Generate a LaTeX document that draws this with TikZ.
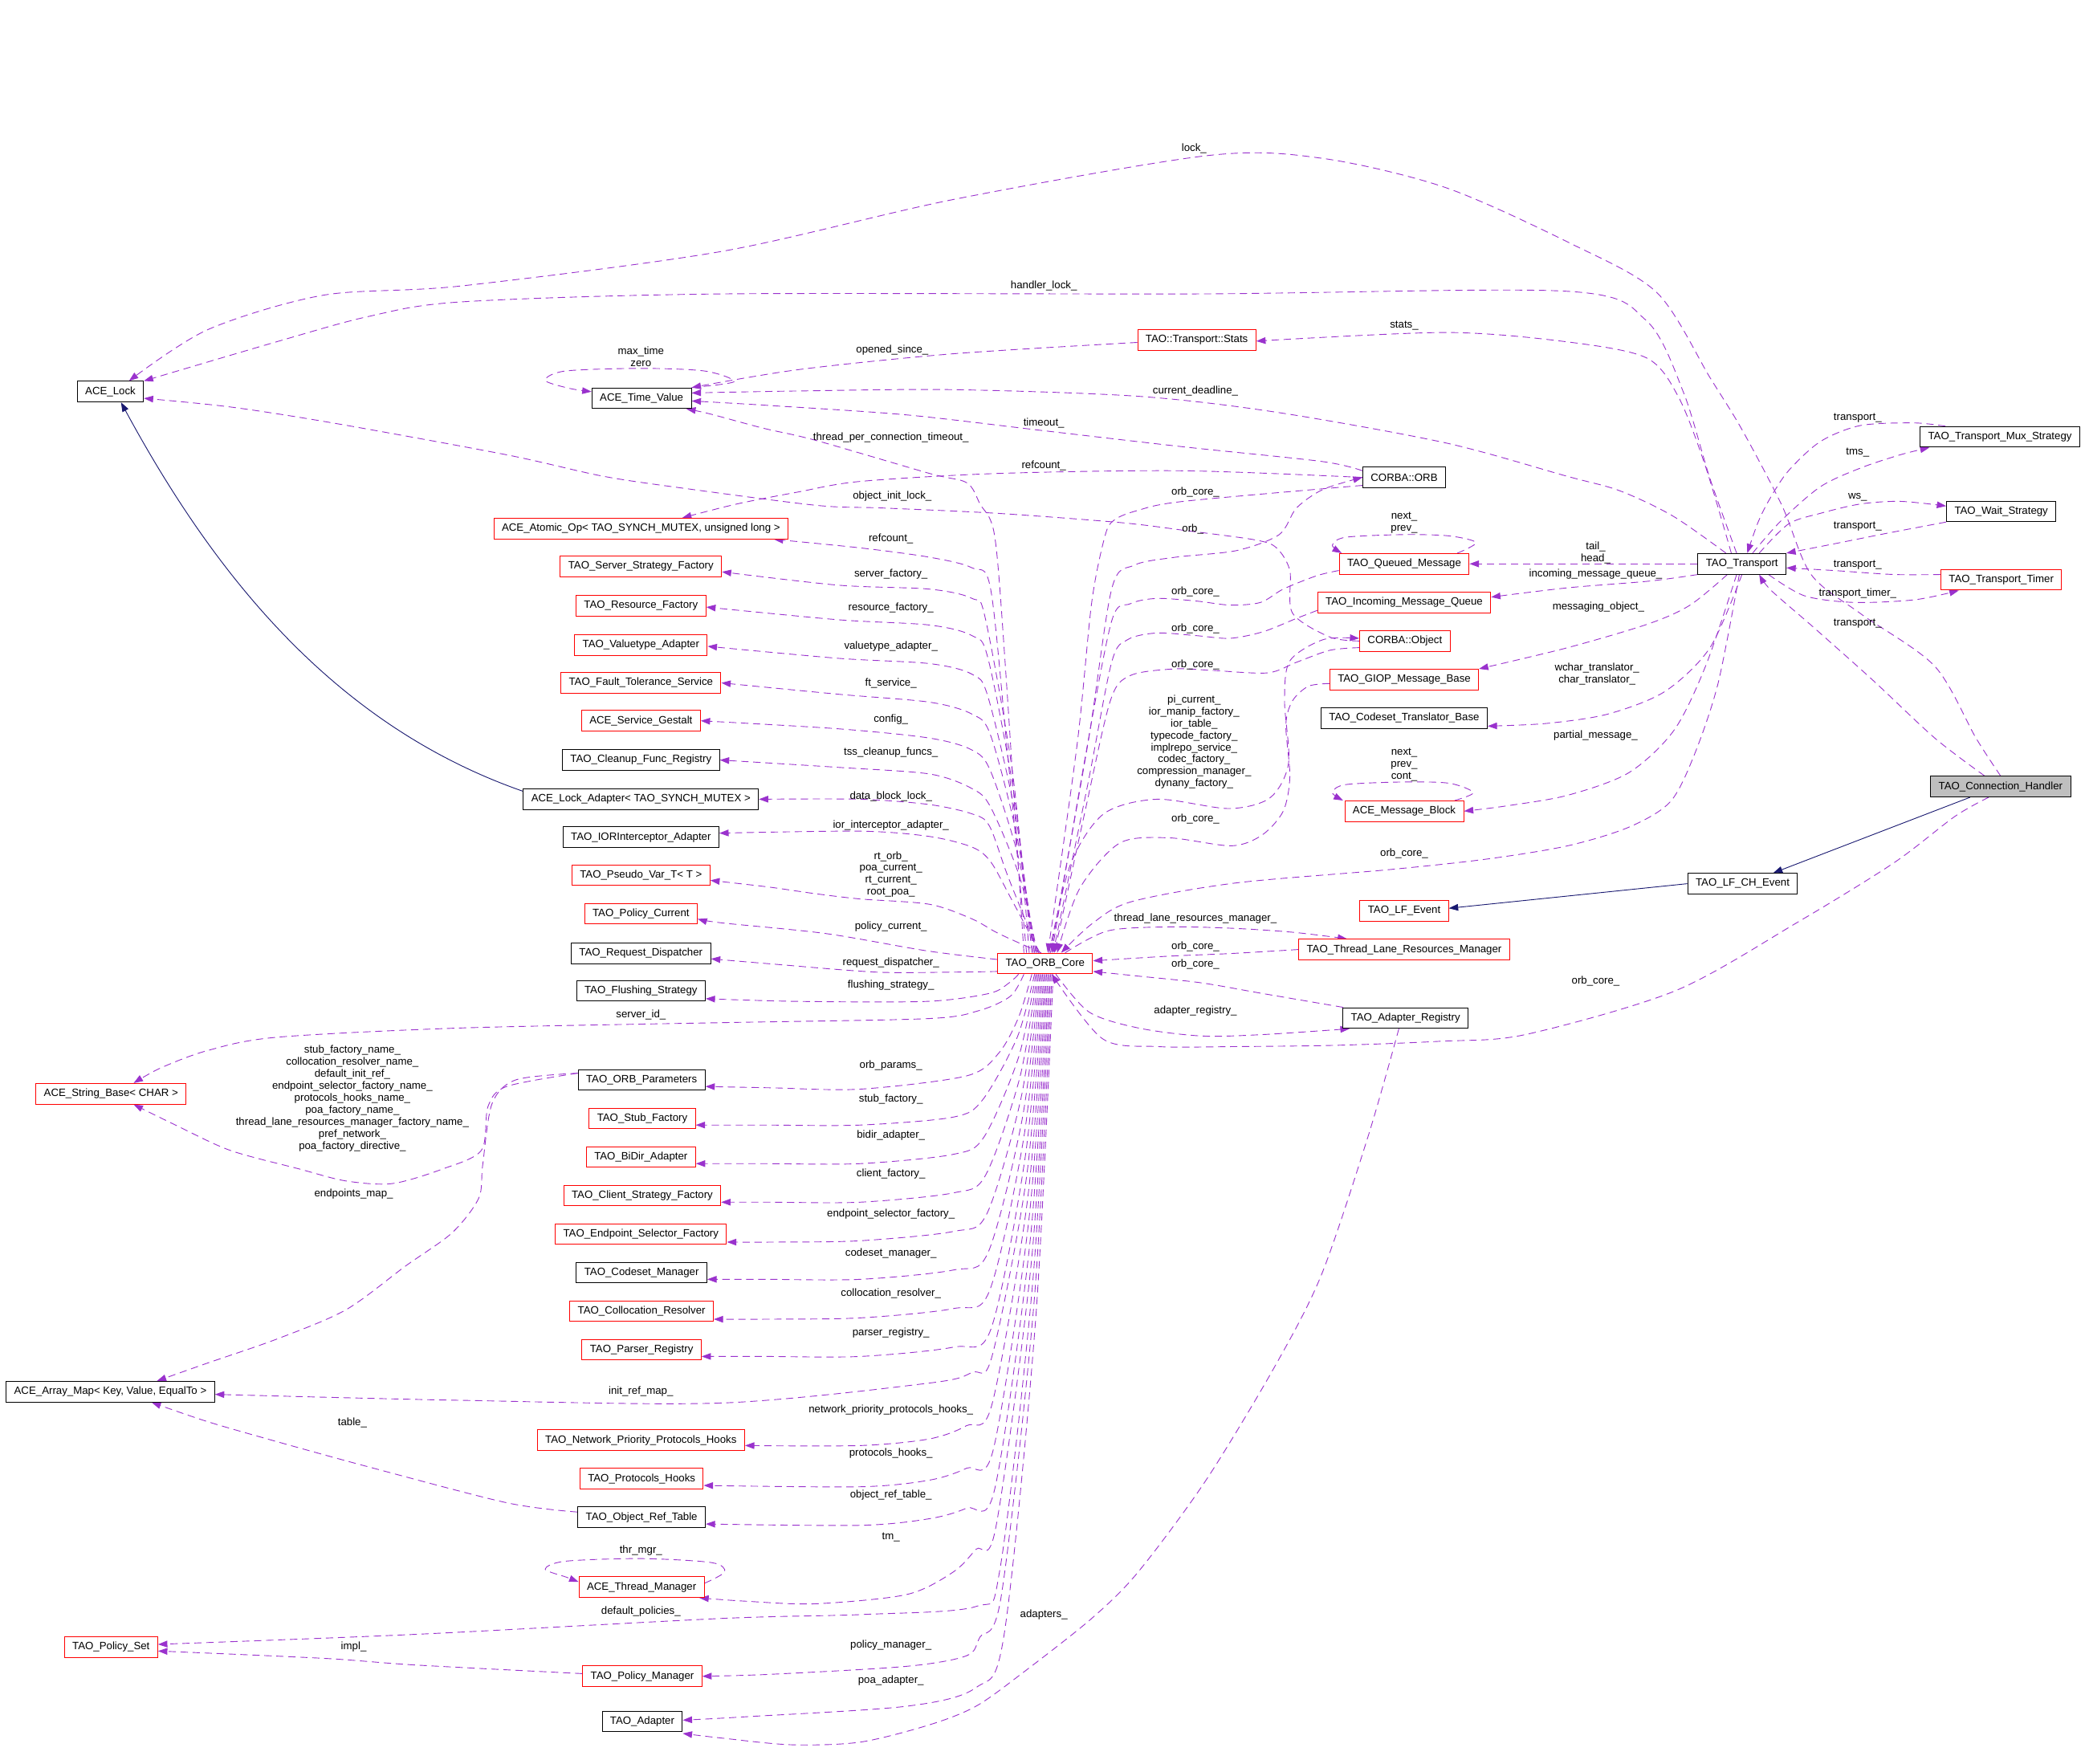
\documentclass[tikz,border=0pt]{standalone}
\usepackage{fontspec}
\setmainfont{Liberation Sans}
\usetikzlibrary{arrows.meta}
\definecolor{purp}{RGB}{154,50,205}
\definecolor{navy}{RGB}{25,25,112}
\definecolor{chgray}{RGB}{191,191,191}
\pgfdeclarelayer{background}
\pgfsetlayers{background,main}
\begin{document}
\begin{tikzpicture}[x=1pt,y=-1pt,
  every node/.style={font=\fontsize{8}{9}\selectfont},
  box/.style={draw=black, rectangle, minimum height=15.5pt, inner xsep=6pt, inner ysep=0pt, line width=0.6pt, fill=white},
  rbox/.style={box, draw=red},
  gbox/.style={box, fill=chgray},
  lbl/.style={inner sep=0pt, align=center},
  dep/.style={draw=purp, line width=0.55pt, dash pattern=on 5.5pt off 3.5pt, -{Triangle[length=7pt,width=5pt]}},
  inh/.style={draw=navy, line width=0.55pt, -{Triangle[length=7pt,width=5pt]}}]
\useasboundingbox (0,0) rectangle (1568,1326);

% ---------- nodes ----------
\node[box] (lock) at (83,294.5) {ACE\_Lock};
\node[box] (tv) at (482.5,299.5) {ACE\_Time\_Value};
\node[rbox] (stats) at (900,255.5) {TAO::Transport::Stats};
\node[box] (orb) at (1056,359) {CORBA::ORB};
\node[rbox] (atomic) at (482,397.5) {ACE\_Atomic\_Op< TAO\_SYNCH\_MUTEX, unsigned long >};
\node[rbox] (ssf) at (482,426) {TAO\_Server\_Strategy\_Factory};
\node[rbox] (rf) at (482,455.5) {TAO\_Resource\_Factory};
\node[rbox] (vta) at (482,485) {TAO\_Valuetype\_Adapter};
\node[rbox] (fts) at (482,513.5) {TAO\_Fault\_Tolerance\_Service};
\node[rbox] (sg) at (482,542) {ACE\_Service\_Gestalt};
\node[box] (cfr) at (482,571.5) {TAO\_Cleanup\_Func\_Registry};
\node[box] (la) at (482,601) {ACE\_Lock\_Adapter< TAO\_SYNCH\_MUTEX >};
\node[box] (ioria) at (482,629.5) {TAO\_IORInterceptor\_Adapter};
\node[rbox] (pvt) at (482,658) {TAO\_Pseudo\_Var\_T< T >};
\node[rbox] (pc) at (482,687) {TAO\_Policy\_Current};
\node[box] (rd) at (482,717) {TAO\_Request\_Dispatcher};
\node[box] (fs) at (482,745) {TAO\_Flushing\_Strategy};
\node[rbox] (sb) at (83.5,822.5) {ACE\_String\_Base< CHAR >};
\node[box] (op) at (482.5,812) {TAO\_ORB\_Parameters};
\node[rbox] (stubf) at (483,841) {TAO\_Stub\_Factory};
\node[rbox] (bidir) at (482,870) {TAO\_BiDir\_Adapter};
\node[rbox] (csf) at (483,899) {TAO\_Client\_Strategy\_Factory};
\node[rbox] (esf) at (482,928) {TAO\_Endpoint\_Selector\_Factory};
\node[box] (cm) at (482.5,957) {TAO\_Codeset\_Manager};
\node[rbox] (cr) at (482.5,986) {TAO\_Collocation\_Resolver};
\node[rbox] (pr) at (482.5,1015) {TAO\_Parser\_Registry};
\node[box] (am) at (83,1046.5) {ACE\_Array\_Map< Key, Value, EqualTo >};
\node[rbox] (npph) at (482,1083) {TAO\_Network\_Priority\_Protocols\_Hooks};
\node[rbox] (ph) at (482.5,1112) {TAO\_Protocols\_Hooks};
\node[box] (ort) at (482.5,1141) {TAO\_Object\_Ref\_Table};
\node[rbox] (tmgr) at (482.5,1193.5) {ACE\_Thread\_Manager};
\node[rbox] (ps) at (83.5,1238.5) {TAO\_Policy\_Set};
\node[rbox] (pm) at (483,1260.5) {TAO\_Policy\_Manager};
\node[box] (ad) at (483,1294.5) {TAO\_Adapter};
\node[rbox] (core) at (786,724.5) {TAO\_ORB\_Core};
\node[rbox] (qm) at (1056,424) {TAO\_Queued\_Message};
\node[rbox] (imq) at (1056,453) {TAO\_Incoming\_Message\_Queue};
\node[rbox] (obj) at (1056.5,482) {CORBA::Object};
\node[rbox] (giop) at (1056,511) {TAO\_GIOP\_Message\_Base};
\node[box] (ctb) at (1056,540) {TAO\_Codeset\_Translator\_Base};
\node[rbox] (mb) at (1056,610) {ACE\_Message\_Block};
\node[rbox] (lfe) at (1056,685) {TAO\_LF\_Event};
\node[rbox] (tlrm) at (1056,714) {TAO\_Thread\_Lane\_Resources\_Manager};
\node[box] (ar) at (1057,765.5) {TAO\_Adapter\_Registry};
\node[box] (tr) at (1310,424) {TAO\_Transport};
\node[box] (mux) at (1504,328.5) {TAO\_Transport\_Mux\_Strategy};
\node[box] (ws) at (1505,384.5) {TAO\_Wait\_Strategy};
\node[rbox] (tt) at (1505,436) {TAO\_Transport\_Timer};
\node[gbox] (ch) at (1504.5,591.5) {TAO\_Connection\_Handler};
\node[box] (lfch) at (1310.5,664.5) {TAO\_LF\_CH\_Event};

% ---------- labels ----------
\node[lbl] (l1) at (898,112) {lock\_};
\node[lbl] (l2) at (785,215) {handler\_lock\_};
\node[lbl] (l3) at (1056,245) {stats\_};
\node[lbl] (l4) at (671,263) {opened\_since\_};
\node[lbl] (l5) at (482,268.5) {max\_time\\zero};
\node[lbl] (l6) at (899,294) {current\_deadline\_};
\node[lbl] (l7) at (785,318) {timeout\_};
\node[lbl] (l8) at (670,329) {thread\_per\_connection\_timeout\_};
\node[lbl] (l9) at (785,350) {refcount\_};
\node[lbl] (l10) at (899,370) {orb\_core\_};
\node[lbl] (l11) at (671,373) {object\_init\_lock\_};
\node[lbl] (l12) at (897,398) {orb\_};
\node[lbl] (l13) at (1056,393) {next\_\\prev\_};
\node[lbl] (l14) at (670,405) {refcount\_};
\node[lbl] (l15) at (670,432) {server\_factory\_};
\node[lbl] (l16) at (899,445) {orb\_core\_};
\node[lbl] (l17) at (670,457) {resource\_factory\_};
\node[lbl] (l18) at (899,473) {orb\_core\_};
\node[lbl] (l19) at (670,486) {valuetype\_adapter\_};
\node[lbl] (l20) at (899,500) {orb\_core\_};
\node[lbl] (l21) at (670,514) {ft\_service\_};
\node[lbl] (l22) at (670,541) {config\_};
\node[lbl] (l23) at (898,558) {pi\_current\_\\ior\_manip\_factory\_\\ior\_table\_\\typecode\_factory\_\\implrepo\_service\_\\codec\_factory\_\\compression\_manager\_\\dynany\_factory\_};
\node[lbl] (l24) at (670,565.5) {tss\_cleanup\_funcs\_};
\node[lbl] (l25) at (670,599) {data\_block\_lock\_};
\node[lbl] (l26) at (899,616) {orb\_core\_};
\node[lbl] (l27) at (670,621) {ior\_interceptor\_adapter\_};
\node[lbl] (l28) at (670,657.5) {rt\_orb\_\\poa\_current\_\\rt\_current\_\\root\_poa\_};
\node[lbl] (l29) at (670,697) {policy\_current\_};
\node[lbl] (l30) at (670,724) {request\_dispatcher\_};
\node[lbl] (l31) at (670,741) {flushing\_strategy\_};
\node[lbl] (l32) at (482,763) {server\_id\_};
\node[lbl] (l33) at (670,801.5) {orb\_params\_};
\node[lbl] (l34) at (265,826) {stub\_factory\_name\_\\collocation\_resolver\_name\_\\default\_init\_ref\_\\endpoint\_selector\_factory\_name\_\\protocols\_hooks\_name\_\\poa\_factory\_name\_\\thread\_lane\_resources\_manager\_factory\_name\_\\pref\_network\_\\poa\_factory\_directive\_};
\node[lbl] (l35) at (670,826.5) {stub\_factory\_};
\node[lbl] (l36) at (670,854) {bidir\_adapter\_};
\node[lbl] (l37) at (670,883) {client\_factory\_};
\node[lbl] (l38) at (266,898) {endpoints\_map\_};
\node[lbl] (l39) at (670,913) {endpoint\_selector\_factory\_};
\node[lbl] (l40) at (670,942.5) {codeset\_manager\_};
\node[lbl] (l41) at (670,972.5) {collocation\_resolver\_};
\node[lbl] (l42) at (670,1002) {parser\_registry\_};
\node[lbl] (l43) at (482,1046.5) {init\_ref\_map\_};
\node[lbl] (l44) at (670,1060) {network\_priority\_protocols\_hooks\_};
\node[lbl] (l45) at (265,1070) {table\_};
\node[lbl] (l46) at (670,1093) {protocols\_hooks\_};
\node[lbl] (l47) at (670,1124.5) {object\_ref\_table\_};
\node[lbl] (l48) at (670,1156) {tm\_};
\node[lbl] (l49) at (482,1166) {thr\_mgr\_};
\node[lbl] (l50) at (482,1212) {default\_policies\_};
\node[lbl] (l51) at (785,1214) {adapters\_};
\node[lbl] (l52) at (670,1237) {policy\_manager\_};
\node[lbl] (l53) at (266,1238.5) {impl\_};
\node[lbl] (l54) at (670,1264) {poa\_adapter\_};
\node[lbl] (l55) at (1056,575) {next\_\\prev\_\\cont\_};
\node[lbl] (l56) at (1056,642) {orb\_core\_};
\node[lbl] (l57) at (899,691) {thread\_lane\_resources\_manager\_};
\node[lbl] (l58) at (899,712) {orb\_core\_};
\node[lbl] (l59) at (899,725) {orb\_core\_};
\node[lbl] (l60) at (899,760) {adapter\_registry\_};
\node[lbl] (l61) at (1200,738) {orb\_core\_};
\node[lbl] (l62) at (1397,314.5) {transport\_};
\node[lbl] (l63) at (1397,340) {tms\_};
\node[lbl] (l64) at (1397,374) {ws\_};
\node[lbl] (l65) at (1397,396) {transport\_};
\node[lbl] (l66) at (1397,424.5) {transport\_};
\node[lbl] (l67) at (1397,446) {transport\_timer\_};
\node[lbl] (l68) at (1397,469) {transport\_};
\node[lbl] (l69) at (1200,415.5) {tail\_\\head\_};
\node[lbl] (l70) at (1200,432) {incoming\_message\_queue\_};
\node[lbl] (l71) at (1202,456.5) {messaging\_object\_};
\node[lbl] (l72) at (1201,507) {wchar\_translator\_\\char\_translator\_};
\node[lbl] (l73) at (1200,553) {partial\_message\_};

% ---------- edges ----------
\begin{pgfonlayer}{background}
% inheritance
\draw[inh] ([xshift=-23pt]ch.south) -- ([xshift=23pt]lfch.north);
\draw[inh] (lfch.west) -- ([yshift=2pt]lfe.east);
\draw[inh] ([yshift=6pt]la.west) .. controls (250,545) and (160,430) .. ([xshift=8pt]lock.south);

% around ACE_Lock / Time_Value
\draw[dep] plot[smooth] coordinates {(ch.north) (1486,555) (1455,501) (1400,462) (1362,432) (1340,380) (1310,323) (1286,284) (1246,220) (1181,183) (1087,141) (994,119) (908,117) (717,150) (543,189) (347,215) (243,222) (156,248) ([xshift=14pt]lock.north)};
\draw[dep] plot[smooth] coordinates {([xshift=-4pt]tr.north) (1286,360) (1266,295) (1238,241) (1178,219) (900,221) (543,221) (347,227) (277,238) (208,257) (lock.north east)};
\draw[dep] plot[smooth] coordinates {([xshift=-8pt]tr.north) (1282,349) (1262,298) (1238,269) (1178,257) (1087,250) ([yshift=-1pt]stats.east)};
\draw[dep] plot[smooth] coordinates {([xshift=-12pt]tr.north) (1258,388) (1218,369) (1178,358) (1087,333) (960,310) (856,298) (717,293) (600,294) ([yshift=4pt]tv.east)};
\draw[dep] plot[smooth] coordinates {([yshift=5pt]orb.west) (994,347) (890,336) (786,324) (682,312) (580,305) ([yshift=-2pt]tv.east)};
\draw[dep] plot[smooth] coordinates {([yshift=-2pt]stats.west) (717,266) (600,278) (tv.north east)};
\draw[dep] plot[smooth] coordinates {([xshift=-16pt]core.north) (756,500) (748,403) (737,379) (727,363) (699,356) (613,331) (574,322) (533,311) ([xshift=-4pt]tv.south east)};
\draw[dep] plot[smooth] coordinates {(tv.north east) (552,287) (530,279) (482,277) (425,279) (410,286) (428,292) ([yshift=5pt]tv.west)};
\draw[dep] plot[smooth] coordinates {(orb.west) (890,354) (751,356) (647,362) (600,370) (554,379) ([xshift=31pt]atomic.north)};
\draw[dep] plot[smooth] coordinates {(obj.west) (1000,479) (972,461) (970,429) (960,412) (944,406) (892,399) (843,393) (750,386) (664,382) (614,380) (513,367) (453,358) (381,342) (250,318) (173,306) ([yshift=-5pt]lock.east)};

% CORBA::ORB / right cluster <-> ORB_Core
\draw[dep] plot[smooth] coordinates {([xshift=4pt]core.north) (818,560) (836,443) (853,425) (884,419) (930,414) (962,402) (975,382) (995,368) (orb.west)};
\draw[dep] plot[smooth] coordinates {([yshift=-6pt]orb.west) (890,377) (855,384) (838,391) (831,403) (821,453) (810,560) ([xshift=2pt]core.north)};
\draw[dep] plot[smooth] coordinates {([yshift=-5pt]qm.west) (990,433) (965,443) (948,453) (925,455) (900,452) (870,450) (850,454) (836,467) (816,570) ([xshift=5pt]core.north)};
\draw[dep] plot[smooth] coordinates {([yshift=-6pt]imq.west) (975,465) (950,475) (925,480) (900,478) (870,476) (848,481) (836,498) (818,590) ([xshift=6pt]core.north)};
\draw[dep] plot[smooth] coordinates {([yshift=-5pt]obj.west) (1000,489) (975,498) (953,506) (910,504) (883,503) (850,508) (835,527) (816,610) ([xshift=7pt]core.north)};
\draw[dep] plot[smooth] coordinates {([xshift=3pt]core.north) (805,650) (830,612) (870,601) (924,608) (955,600) (969,574) (966,527) (970,497) (995,481) ([yshift=2pt]obj.west)};
\draw[dep] plot[smooth] coordinates {([yshift=-3pt]giop.west) (984,516) (972,527) (967,545) (970,584) (965,610) (949,628) (926,636) (879,630) (842,634) (812,668) ([xshift=9pt]core.north)};
\draw[dep] plot[smooth] coordinates {([xshift=-2pt]tr.south) (1292,514) (1274,568) (1256,603) (1225,622) (1179,636) (1118,646) (1044,654) (929,664) (851,678) (822,694) ([xshift=12pt]core.north)};
\draw[dep] plot[smooth] coordinates {([xshift=15pt]core.north) (833,700) (879,697) (926,698) (972,701) ([xshift=-43pt]tlrm.north)};
\draw[dep] plot[smooth] coordinates {(tlrm.west) (926,717) (879,719) ([yshift=2pt]core.east)};
\draw[dep] plot[smooth] coordinates {([xshift=-47pt]ar.north) (949,747) (903,739) (856,734) ([yshift=-6pt]core.east)};
\draw[dep] plot[smooth] coordinates {([xshift=8pt]core.south) (819,761) (856,773) (903,779) (949,778) ([xshift=-42pt]ar.south)};
\draw[dep] plot[smooth] coordinates {([xshift=-9pt]ch.south) (1470,614) (1424,649) (1351,694) (1260,745) (1147,778) (1083,783) (1006,786) (929,787) (871,787) (829,781) ([xshift=5pt]core.south)};
\draw[dep] plot[smooth] coordinates {([xshift=-5pt]ar.south) (1029,854) (994,958) (959,1027) (907,1113) (856,1182) (821,1217) (769,1258) (734,1283) (699,1297) (647,1310) (595,1312) (543,1307) ([yshift=-9pt]ad.east)};

% Transport cluster
\draw[dep] plot[smooth] coordinates {([xshift=-41pt]mux.north) (1439,318) (1399,320) (1369,332) (1345,354) (1331,375) (1322,393) ([xshift=4pt]tr.north)};
\draw[dep] plot[smooth] coordinates {([xshift=8pt]tr.north) (1339,392) (1369,366) (1399,352) (1429,342) ([xshift=-53pt]mux.south)};
\draw[dep] plot[smooth] coordinates {([xshift=13pt]tr.north) (1345,394) (1369,386) (1399,379) (1429,377) ([yshift=4pt]ws.west)};
\draw[dep] plot[smooth] coordinates {(ws.south west) (1419,401) (1379,409) (tr.north east)};
\draw[dep] plot[smooth] coordinates {([yshift=4pt]tt.west) (1424,432) (1379,429) ([yshift=-3pt]tr.east)};
\draw[dep] plot[smooth] coordinates {([xshift=20pt]tr.south) (1357,448) (1394,453) (1440,451) ([xshift=-32pt]tt.south)};
\draw[dep] plot[smooth] coordinates {([xshift=-12pt]ch.north) (1455,555) (1409,512) (1363,471) (1332,444) ([xshift=13pt]tr.south)};
\draw[dep] (tr.west) -- (qm.east);
\draw[dep] plot[smooth] coordinates {(tr.south west) (1240,437) (1179,442) ([yshift=4pt]imq.east)};
\draw[dep] plot[smooth] coordinates {([xshift=-11pt]tr.south) (1271,455) (1240,469) (1179,487) (giop.north east)};
\draw[dep] plot[smooth] coordinates {(tr.south) (1286,487) (1252,520) (1209,537) (1163,544) ([yshift=-6pt]ctb.east)};
\draw[dep] plot[smooth] coordinates {([xshift=-4pt]tr.south) (1283,500) (1259,549) (1225,581) (1179,598) (1133,606) (mb.east)};
\draw[dep] plot[smooth] coordinates {([xshift=40pt]qm.north) (1110,408) (1090,403) (1056,402) (1012,404) (1002,410) ([xshift=-47pt]qm.north)};
\draw[dep] plot[smooth] coordinates {([xshift=38pt]mb.north) (1108,596) (1090,589) (1056,588) (1012,590) (1002,596) ([xshift=-46pt]mb.north)};

% ORB_Core -> left column (upper)
\draw[dep] plot[smooth] coordinates {([xshift=-14pt]core.north) (758,570) (745,443) (731,427) (699,419) (647,412) ([xshift=-11pt]atomic.south east)};
\draw[dep] plot[smooth] coordinates {([xshift=-12pt]core.north) (762,585) (741,465) (731,450) (699,443) (630,440) ([yshift=-4pt]ssf.east)};
\draw[dep] plot[smooth] coordinates {([xshift=-10pt]core.north) (763,600) (743,495) (731,478) (699,470) (630,466) ([yshift=-1pt]rf.east)};
\draw[dep] plot[smooth] coordinates {([xshift=-9pt]core.north) (764,615) (743,524) (731,507) (699,499) (630,495) ([yshift=-1pt]vta.east)};
\draw[dep] plot[smooth] coordinates {([xshift=-8pt]core.north) (765,630) (745,553) (731,537) (699,528) (630,522) (fts.east)};
\draw[dep] plot[smooth] coordinates {([xshift=-7pt]core.north) (766,645) (745,580) (731,564) (699,555) (630,548) (sg.east)};
\draw[dep] plot[smooth] coordinates {([xshift=-6pt]core.north) (767,660) (745,607) (731,593) (699,582) (630,577) (cfr.east)};
\draw[dep] plot[smooth] coordinates {([xshift=-5pt]core.north) (758,659) (744,621) (731,612) (699,605) (647,601) (la.east)};
\draw[dep] plot[smooth] coordinates {([xshift=-4pt]core.north) (760,675) (745,648) (731,637) (699,629) (647,625) ([yshift=3pt]ioria.east)};
\draw[dep] plot[smooth] coordinates {([xshift=-3pt]core.north) (751,702) (731,691) (699,680) (647,676) (613,672) (578,667) ([yshift=-4pt]pvt.east)};
\draw[dep] plot[smooth] coordinates {([yshift=3pt]core.west) (697,715) (621,702) (543,694) ([yshift=-4pt]pc.east)};
\draw[dep] plot[smooth] coordinates {([yshift=-6pt]core.west) (717,731) (659,731) (582,725) ([yshift=-4pt]rd.east)};
\draw[dep] plot[smooth] coordinates {([xshift=-20pt]core.south) (759,739) (744,747) (697,753) (600,753) ([yshift=-6pt]fs.east)};

% ORB_Core -> left column (lower)
\draw[dep] plot[smooth] coordinates {([xshift=-16pt]core.south) (760,749) (736,760) (697,766) (543,769) (347,773) (208,780) (156,790) (121,803) ([xshift=17pt]sb.north)};
\draw[dep] plot[smooth] coordinates {([xshift=-10pt]core.south) (766,765) (751,792) (727,809) (647,819) (580,818) ([yshift=-5pt]op.east)};
\draw[dep] plot[smooth] coordinates {([xshift=-8pt]core.south) (765,780) (739,827) (717,840) (647,846) (575,846) ([yshift=-5pt]stubf.east)};
\draw[dep] plot[smooth] coordinates {([xshift=-7pt]core.south) (766,795) (740,855) (717,868) (647,875) (575,875) ([yshift=-5pt]bidir.east)};
\draw[dep] plot[smooth] coordinates {([xshift=-6pt]core.south) (767,810) (741,884) (717,897) (647,904) (580,904) ([yshift=-5pt]csf.east)};
\draw[dep] plot[smooth] coordinates {([xshift=-5pt]core.south) (768,825) (742,913) (717,926) (647,933) (585,934) ([yshift=-6pt]esf.east)};
\draw[dep] plot[smooth] coordinates {([xshift=-4pt]core.south) (769,840) (743,942) (717,955) (647,962) (575,962) ([yshift=-5pt]cm.east)};
\draw[dep] plot[smooth] coordinates {([xshift=-3pt]core.south) (770,855) (744,971) (717,984) (647,991) (575,992) ([yshift=-6pt]cr.east)};
\draw[dep] plot[smooth] coordinates {([xshift=-2pt]core.south) (771,870) (745,1000) (717,1013) (647,1020) (575,1020) ([yshift=-5pt]pr.east)};
\draw[dep] plot[smooth] coordinates {([xshift=-1pt]core.south) (772,885) (746,1020) (731,1032) (699,1040) (543,1055) (347,1053) ([yshift=-2pt]am.east)};
\draw[dep] plot[smooth] coordinates {(core.south) (773,900) (746,1056) (727,1072) (699,1082) (647,1087) ([yshift=-4pt]npph.east)};
\draw[dep] plot[smooth] coordinates {([xshift=1pt]core.south) (774,915) (747,1090) (727,1104) (699,1113) (647,1118) ([yshift=-5pt]ph.east)};
\draw[dep] plot[smooth] coordinates {([xshift=2pt]core.south) (775,930) (748,1120) (727,1134) (699,1142) (647,1147) ([yshift=-5pt]ort.east)};
\draw[dep] plot[smooth] coordinates {([xshift=3pt]core.south) (776,945) (749,1148) (734,1165) (717,1182) (682,1199) (613,1206) (560,1204) ([xshift=-4pt]tmgr.south east)};
\draw[dep] plot[smooth] coordinates {([xshift=4pt]core.south) (777,960) (752,1180) (734,1208) (650,1214) (543,1217) (312,1229) ([yshift=2pt]ps.east)};
\draw[dep] plot[smooth] coordinates {([xshift=5pt]core.south) (778,975) (753,1200) (737,1231) (727,1245) (682,1253) (580,1259) (pm.east)};
\draw[dep] plot[smooth] coordinates {([xshift=6pt]core.south) (779,990) (755,1230) (734,1269) (682,1283) (560,1291) ([yshift=1pt]ad.east)};

% far left
\draw[dep] plot[smooth] coordinates {([yshift=5pt]op.west) (381,817) (367,832) (362,865) (333,879) (295,890) (260,888) (225,879) (173,865) (132,846) ([xshift=17pt]sb.south)};
\draw[dep] plot[smooth] coordinates {([yshift=5pt]op.west) (388,812) (370,830) (363,876) (360,901) (340,927) (305,952) (260,985) (208,1007) (156,1025) ([xshift=35pt]am.north)};
\draw[dep] plot[smooth] coordinates {([yshift=4pt]ort.west) (381,1130) (277,1103) (208,1084) (156,1069) ([xshift=31pt]am.south)};
\draw[dep] plot[smooth] coordinates {([yshift=2pt]pm.west) (312,1252) (243,1247) ([yshift=-3pt]ps.east)};
\draw[dep] plot[smooth] coordinates {([yshift=3pt]tmgr.east) (545,1182) (535,1175) (482,1172) (425,1174) (410,1180) (426,1186) ([yshift=4pt]tmgr.west)};
\end{pgfonlayer}
\end{tikzpicture}
\end{document}
